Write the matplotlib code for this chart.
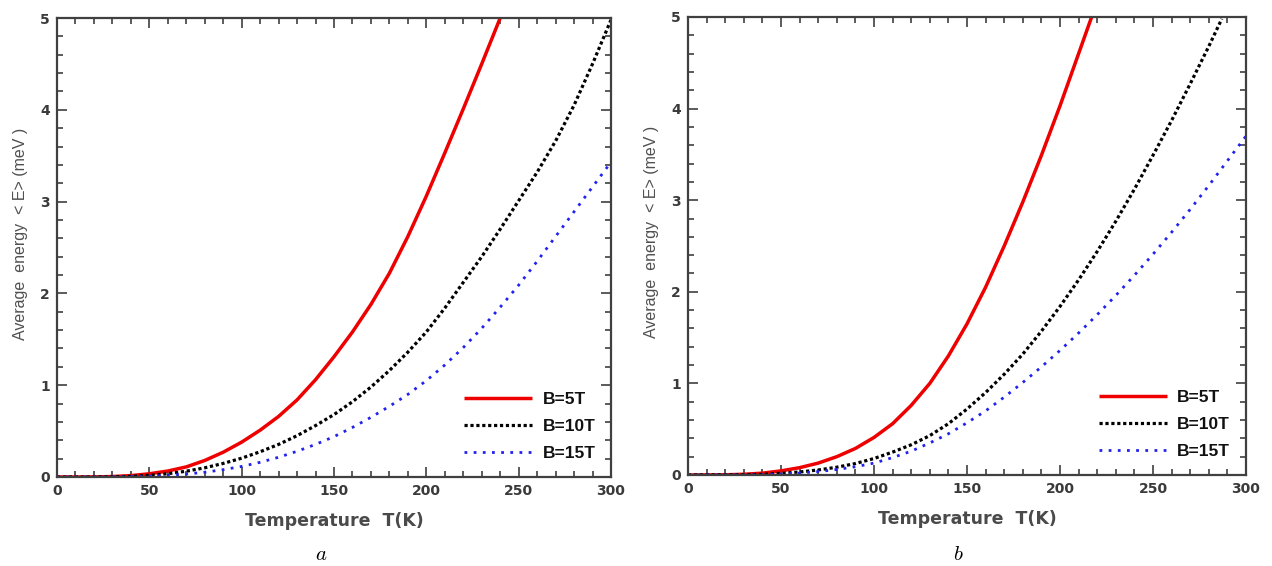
import numpy as np
import matplotlib
matplotlib.use("Agg")
import matplotlib.pyplot as plt
from matplotlib.ticker import MultipleLocator

plt.rcParams['font.family'] = ['Liberation Sans', 'DejaVu Sans']
plt.rcParams['mathtext.fontset'] = 'cm'

# ---------------- data ----------------
# Panel a
Ta_red = [0, 10, 20, 30, 40, 50, 60, 70, 80, 90, 100, 110, 120, 130, 140, 150, 160, 170, 180, 190, 200, 210, 220, 230, 240]
Ea_red = [0, 0, 0.001, 0.005, 0.015, 0.035, 0.065, 0.11, 0.18, 0.27, 0.38, 0.51, 0.66, 0.84, 1.06, 1.31, 1.58, 1.88, 2.22, 2.62, 3.06, 3.53, 4.01, 4.50, 5.0]

Ta_black = [0, 20, 30, 40, 50, 60, 70, 80, 90, 100, 110, 120, 130, 140, 150, 160, 170, 180, 190, 200, 210, 220, 230, 240, 250, 260, 270, 280, 290, 300]
Ea_black = [0, 0, 0.002, 0.007, 0.018, 0.036, 0.063, 0.10, 0.148, 0.205, 0.275, 0.355, 0.45, 0.56, 0.68, 0.82, 0.98, 1.16, 1.36, 1.58, 1.84, 2.12, 2.40, 2.70, 3.01, 3.32, 3.66, 4.05, 4.50, 4.98]

Ta_blue = [0, 30, 40, 50, 60, 70, 80, 90, 100, 110, 120, 130, 140, 150, 160, 170, 180, 190, 200, 210, 220, 230, 240, 250, 260, 270, 280, 290, 300]
Ea_blue = [0, 0.001, 0.003, 0.009, 0.018, 0.032, 0.052, 0.08, 0.115, 0.16, 0.215, 0.28, 0.355, 0.44, 0.54, 0.65, 0.77, 0.90, 1.05, 1.22, 1.41, 1.62, 1.85, 2.09, 2.35, 2.62, 2.89, 3.16, 3.43]

# Panel b
Tb_red = [0, 20, 30, 40, 50, 60, 70, 80, 90, 100, 110, 120, 130, 140, 150, 160, 170, 180, 190, 200, 210, 217]
Eb_red = [0, 0.002, 0.008, 0.02, 0.045, 0.08, 0.13, 0.20, 0.29, 0.41, 0.56, 0.76, 1.0, 1.30, 1.65, 2.05, 2.50, 2.98, 3.49, 4.03, 4.60, 5.0]

Tb_black = [0, 30, 40, 50, 60, 70, 80, 90, 100, 110, 120, 130, 140, 150, 160, 170, 180, 190, 200, 210, 220, 230, 240, 250, 260, 270, 280, 287]
Eb_black = [0, 0.003, 0.008, 0.018, 0.033, 0.055, 0.085, 0.125, 0.18, 0.25, 0.33, 0.43, 0.56, 0.72, 0.90, 1.10, 1.32, 1.57, 1.84, 2.13, 2.44, 2.77, 3.12, 3.49, 3.87, 4.27, 4.68, 4.98]

Tb_blue = [0, 30, 40, 50, 60, 70, 80, 90, 100, 110, 120, 130, 140, 150, 160, 170, 180, 190, 200, 210, 220, 230, 240, 250, 260, 270, 280, 290, 300]
Eb_blue = [0, 0.001, 0.004, 0.01, 0.021, 0.037, 0.06, 0.09, 0.13, 0.19, 0.26, 0.35, 0.45, 0.57, 0.70, 0.85, 1.01, 1.18, 1.36, 1.55, 1.75, 1.96, 2.18, 2.41, 2.65, 2.90, 3.16, 3.43, 3.70]

labels = ["B=5T", "B=10T", "B=15T"]
x_ticks = [0, 50, 100, 150, 200, 250, 300]
y_ticks = [0, 1, 2, 3, 4, 5]
panel_letters = ["a", "b"]

# ---------------- figure ----------------
fig = plt.figure(figsize=(12.72, 5.66), dpi=100)
axa = fig.add_axes([57/1272, (566-477)/566, 554/1272, 459/566])
axb = fig.add_axes([688/1272, (566-475)/566, 558/1272, 458/566])

grey = '#404040'

def style(ax, lx):
    ax.set_xlim(0, 300)
    ax.set_ylim(0, 5)
    ax.set_xticks(x_ticks)
    ax.set_yticks(y_ticks)
    ax.xaxis.set_minor_locator(MultipleLocator(10))
    ax.yaxis.set_minor_locator(MultipleLocator(0.2))
    ax.tick_params(which='both', direction='in', top=True, right=True, color=grey, width=1.2)
    ax.tick_params(which='major', length=7, labelcolor='#3a3a3a', pad=5)
    ax.tick_params(which='minor', length=4)
    for lab in ax.get_xticklabels() + ax.get_yticklabels():
        lab.set_fontfamily('DejaVu Sans')
        lab.set_fontweight('bold')
        lab.set_fontsize(10)
    for s in ax.spines.values():
        s.set_color(grey)
        s.set_linewidth(1.6)
    ax.set_xlabel("Temperature  T(K)", fontsize=12.5, fontweight='bold', color='#4a4a4a',
                  family='DejaVu Sans', labelpad=10)
    ax.set_ylabel("Average  energy  < E> (meV )", fontsize=11.5, color='#505050')
    ax.yaxis.set_label_coords(lx, 0.53)

def draw(ax, Tr, Er, Tk, Ek, Tbl, Ebl):
    l1, = ax.plot(Tr, Er, color='#ee0000', lw=2.5, solid_capstyle='butt', solid_joinstyle='round')
    l2, = ax.plot(Tk, Ek, color='black', lw=2.3, linestyle=(0, (1, 0.85)), dash_capstyle='butt')
    l3, = ax.plot(Tbl, Ebl, color='#2222ee', lw=2.0, linestyle=(0, (1, 2.3)), dash_capstyle='butt')
    leg = ax.legend([l1, l2, l3], labels, loc='lower right', frameon=False,
                    prop={'weight': 'bold', 'size': 12.5}, handlelength=3.9,
                    handletextpad=0.6, labelspacing=0.7, borderaxespad=0.5)
    for t in leg.get_texts():
        t.set_color('#111111')

draw(axa, Ta_red, Ea_red, Ta_black, Ea_black, Ta_blue, Ea_blue)
draw(axb, Tb_red, Eb_red, Tb_black, Eb_black, Tb_blue, Eb_blue)
style(axa, -0.052)
style(axb, -0.052)

fig.text(321/1272, 1 - 555/566, "$" + panel_letters[0] + "$", ha='center', va='center', fontsize=15)
fig.text(958/1272, 1 - 555/566, "$" + panel_letters[1] + "$", ha='center', va='center', fontsize=15)

fig.savefig("out.png", dpi=100)
